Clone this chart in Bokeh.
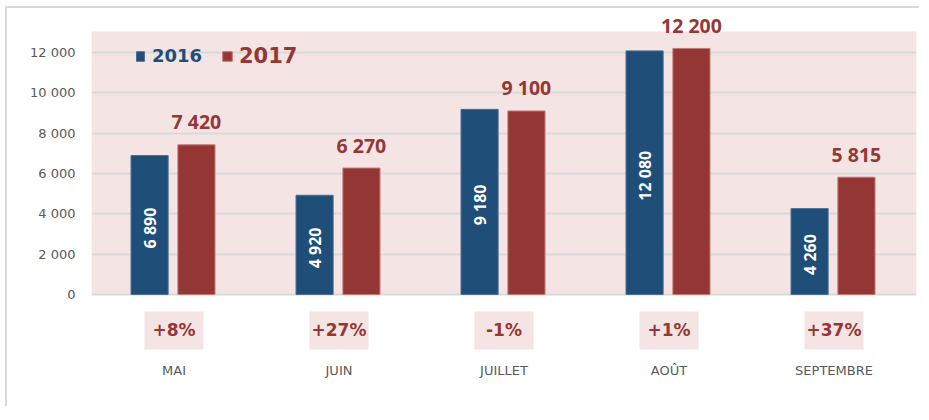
import math
from bokeh.plotting import figure
from bokeh.models import (ColumnDataSource, FactorRange, Range1d, FixedTicker,
                          BoxAnnotation, Legend, LegendItem)
from bokeh.transform import dodge
from bokeh.core.properties import value
from bokeh.embed import file_html
from bokeh.resources import INLINE

# ---- data ----
months = ["MAI", "JUIN", "JUILLET", "AOÛT", "SEPTEMBRE"]
v2016 = [6890, 4920, 9180, 12080, 4260]
v2017 = [7420, 6270, 9100, 12200, 5815]
pct_labels = ["+8%", "+27%", "-1%", "+1%", "+37%"]
y_ticks = [0, 2000, 4000, 6000, 8000, 10000, 12000]
y_tick_labels = ["0", "2 000", "4 000", "6 000", "8 000", "10 000", "12 000"]

def fmt(v):
    return f"{v:,}".replace(",", " ")

src = ColumnDataSource(dict(
    month=months,
    v16=v2016,
    v17=v2017,
    mid16=[v / 2 for v in v2016],
    lab16=[fmt(v) for v in v2016],
    lab17=[fmt(v) for v in v2017],
    pct=pct_labels,
))

# ---- style ----
BLUE = "#1f4e79"
RED = "#943634"
RED_TXT = "#953735"
PINK = "#f4e4e4"
GRID = "#d9d9d9"
GRAY_TXT = "#595959"
PINK_TOP = 13040
PCT_Y = -1780

p = figure(width=914, height=400, x_range=FactorRange(factors=months, range_padding=0),
           y_range=Range1d(-2876, 13983), output_backend="svg", toolbar_location=None,
           min_border_left=84, min_border_right=5, min_border_top=4, min_border_bottom=56)
p.styles = {"margin-left": "5px", "margin-top": "6px",
            "border-left": "2px solid #d9d9d9", "border-top": "2px solid #d9d9d9"}
p.outline_line_color = None
p.background_fill_color = "white"

bg = BoxAnnotation(bottom=0, top=PINK_TOP, fill_color=PINK, fill_alpha=1, line_color=None, level="image")
p.add_layout(bg)

# axes
p.yaxis.ticker = FixedTicker(ticks=y_ticks)
p.yaxis.major_label_overrides = {t: l for t, l in zip(y_ticks, y_tick_labels)}
p.yaxis.axis_line_color = None
p.yaxis.major_tick_line_color = None
p.yaxis.minor_tick_line_color = None
p.yaxis.major_label_standoff = 10
p.yaxis.major_label_text_font = "DejaVu Sans"
p.yaxis.major_label_text_font_size = "13px"
p.yaxis.major_label_text_color = GRAY_TXT

p.xaxis.axis_line_color = None
p.xaxis.major_tick_line_color = None
p.xaxis.major_label_standoff = 4
p.xaxis.major_label_text_font = "DejaVu Sans"
p.xaxis.major_label_text_font_size = "13px"
p.xaxis.major_label_text_color = GRAY_TXT

p.xgrid.grid_line_color = None
p.ygrid.ticker = FixedTicker(ticks=y_ticks)
p.ygrid.grid_line_color = GRID
p.ygrid.grid_line_width = 2

# bars
b16 = p.vbar(x=dodge("month", -0.148, range=p.x_range), top="v16", width=0.225, source=src,
             fill_color=BLUE, line_color="#4a6f93", line_width=1)
b17 = p.vbar(x=dodge("month", 0.136, range=p.x_range), top="v17", width=0.225, source=src,
             fill_color=RED, line_color="#c07a78", line_width=1)

# labels
p.text(x=dodge("month", -0.148, range=p.x_range), y="mid16", text="lab16", source=src,
       angle=math.pi / 2, text_align="center", text_baseline="middle", x_offset=0, y_offset=3,
       text_color="white", text_font=value("Open Sans"), text_font_style="bold",
       text_font_size="16px")
p.text(x=dodge("month", 0.136, range=p.x_range), y="v17", text="lab17", source=src,
       text_align="center", text_baseline="middle", y_offset=-23,
       text_color=RED_TXT, text_font=value("Open Sans"), text_font_style="bold",
       text_font_size="19.5px")

# percent boxes
p.rect(x="month", y=PCT_Y, width=59, height=38, width_units="screen", height_units="screen",
       source=src, fill_color=PINK, line_color=None)
p.text(x="month", y=PCT_Y, text="pct", source=src, text_align="center", text_baseline="middle",
       text_color=RED_TXT, text_font=value("DejaVu Sans"), text_font_style="bold",
       text_font_size="17px")

# legends
leg1 = Legend(items=[LegendItem(label="2016", renderers=[b16])], location=(44, 286),
              orientation="horizontal", padding=0, margin=0, border_line_color=None,
              background_fill_alpha=0, glyph_width=10, glyph_height=12, label_standoff=7,
              label_text_font="DejaVu Sans", label_text_font_style="bold",
              label_text_font_size="18px", label_text_color=BLUE)
leg2 = Legend(items=[LegendItem(label="2017", renderers=[b17])], location=(130, 284),
              orientation="horizontal", padding=0, margin=0, border_line_color=None,
              background_fill_alpha=0, glyph_width=12, glyph_height=12, label_standoff=6,
              label_text_font="DejaVu Sans", label_text_font_style="bold",
              label_text_font_size="21px", label_text_color=RED_TXT)
p.add_layout(leg1, "center")
p.add_layout(leg2, "center")

open("out.html", "w").write(file_html(p, INLINE))
